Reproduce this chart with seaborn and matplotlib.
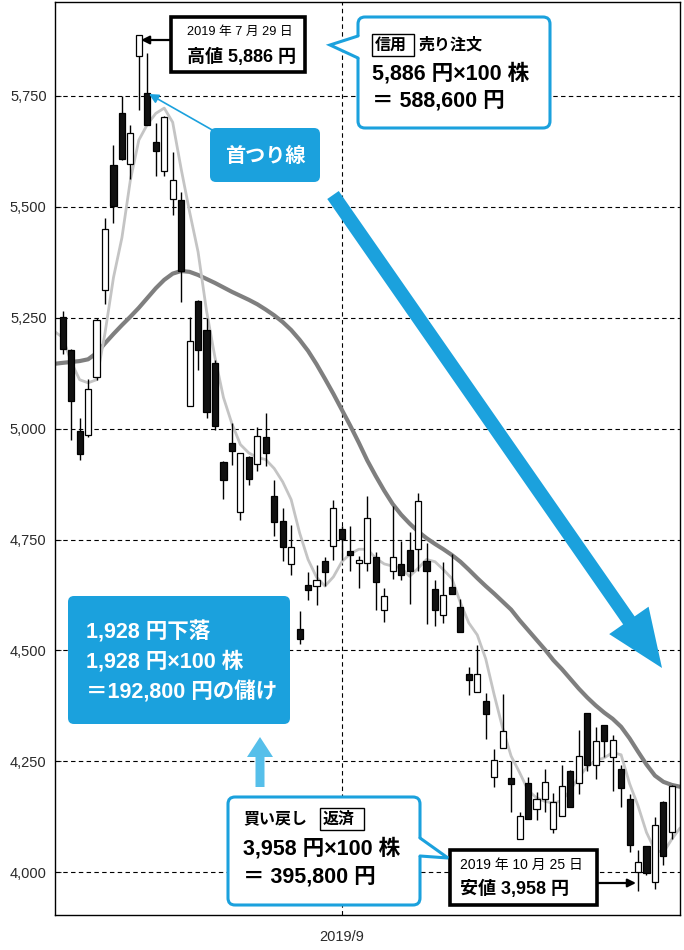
import numpy as np
import pandas as pd
import matplotlib
matplotlib.use("Agg")
import matplotlib.pyplot as plt
import seaborn as sns
from matplotlib.patches import FancyBboxPatch, Rectangle, Polygon, FancyArrow
from matplotlib.lines import Line2D

sns.set_theme(style="white")
plt.rcParams['font.family'] = ['Noto Sans CJK JP', 'DejaVu Sans']
MIXED = ['Liberation Sans', 'Noto Sans CJK JP']

# --- daily prices, 2019-07-16 .. 2019-10-31 (one entry per trading day) ---
opens = [5252, 5178, 4995, 4986, 5117, 5313, 5593, 5711, 5597, 5840,
         5755, 5645, 5581, 5517, 5514, 5051, 5288, 5222, 5148, 4924,
         4967, 4812, 4936, 4920, 4982, 4848, 4791, 4695, 4549, 4647,
         4646, 4701, 4735, 4773, 4724, 4697, 4696, 4710, 4591, 4679,
         4695, 4726, 4728, 4701, 4639, 4580, 4642, 4599, 4447, 4407,
         4387, 4215, 4280, 4212, 4075, 4201, 4142, 4165, 4097, 4126,
         4228, 4202, 4360, 4243, 4331, 4260, 4232, 4166, 4001, 4059,
         3979, 4158, 4091]
highs = [5265, 5180, 5024, 5111, 5248, 5474, 5639, 5750, 5683, 5886,
         5847, 5688, 5705, 5623, 5532, 5251, 5290, 5248, 5154, 4926,
         5013, 4945, 4938, 5003, 5034, 4884, 4822, 4783, 4589, 4677,
         4692, 4710, 4839, 4780, 4780, 4712, 4848, 4721, 4640, 4825,
         4747, 4767, 4854, 4741, 4658, 4700, 4717, 4615, 4463, 4512,
         4404, 4278, 4401, 4250, 4137, 4214, 4182, 4233, 4178, 4243,
         4230, 4321, 4360, 4327, 4333, 4310, 4241, 4177, 4050, 4060,
         4125, 4160, 4196]
lows = [5169, 4974, 4929, 4980, 5110, 5280, 5462, 5605, 5562, 5717,
        5683, 5570, 5570, 5481, 5286, 5051, 5133, 5023, 4996, 4841,
        4917, 4795, 4872, 4905, 4916, 4758, 4701, 4670, 4514, 4613,
        4602, 4645, 4703, 4703, 4679, 4640, 4680, 4591, 4564, 4661,
        4658, 4604, 4679, 4559, 4555, 4562, 4628, 4541, 4400, 4407,
        4300, 4192, 4280, 4137, 4075, 4120, 4118, 4135, 4088, 4126,
        4147, 4177, 4228, 4211, 4261, 4183, 4147, 4046, 3958, 3995,
        3962, 4016, 4076]
closes = [5180, 5061, 4942, 5090, 5245, 5449, 5502, 5608, 5665, 5886,
          5683, 5625, 5702, 5559, 5355, 5197, 5177, 5038, 5005, 4885,
          4949, 4945, 4886, 4984, 4945, 4789, 4733, 4733, 4526, 4636,
          4658, 4677, 4821, 4752, 4714, 4703, 4798, 4655, 4622, 4710,
          4671, 4680, 4836, 4680, 4592, 4625, 4628, 4541, 4433, 4447,
          4356, 4254, 4319, 4200, 4127, 4120, 4165, 4203, 4158, 4195,
          4147, 4263, 4243, 4296, 4296, 4299, 4191, 4062, 4024, 3998,
          4106, 4037, 4194]

# moving averages: left plot edge, each trading day, right plot edge
ma_short = [5218,
            5205, 5150, 5110, 5103, 5110, 5215, 5340, 5430, 5560, 5650,
            5685, 5710, 5722, 5690, 5585, 5488, 5398, 5265, 5160, 5070,
            5011, 4964, 4945, 4935, 4930, 4910, 4880, 4840, 4765, 4705,
            4665, 4645, 4666, 4700, 4718, 4728, 4728, 4708, 4695, 4690,
            4686, 4667, 4685, 4705, 4700, 4682, 4662, 4608, 4562, 4535,
            4481, 4400, 4325, 4262, 4225, 4185, 4168, 4160, 4156, 4162,
            4185, 4215, 4238, 4252, 4258, 4270, 4265, 4200, 4150, 4090,
            4050, 4045, 4075,
            4100]
ma_long = [5146,
           5148, 5150, 5152, 5156, 5170, 5192, 5213, 5233, 5252, 5272,
           5294, 5316, 5335, 5349, 5355, 5353, 5346, 5337, 5328, 5318,
           5308, 5299, 5290, 5280, 5268, 5255, 5240, 5222, 5200, 5175,
           5145, 5112, 5078, 5042, 5006, 4968, 4928, 4893, 4860, 4830,
           4806, 4786, 4768, 4753, 4740, 4728, 4715, 4700, 4682, 4663,
           4645, 4628, 4610, 4592, 4568, 4546, 4524, 4502, 4478, 4458,
           4436, 4414, 4394, 4376, 4360, 4346, 4328, 4302, 4272, 4243,
           4218, 4204, 4197,
           4193]

y_ticks = [4000, 4250, 4500, 4750, 5000, 5250, 5500, 5750]
month_tick_day = 33
month_tick_label = "2019/9"

BLUE = "#1ba1dd"
BLUE_LIGHT = "#56bfea"

n = len(closes)
x_lo, x_hi = -0.91, n - 1 + 0.96
df = pd.DataFrame({"day": np.arange(n), "open": opens, "high": highs,
                   "low": lows, "close": closes})
ma_x = np.r_[x_lo, np.arange(n), x_hi]
ma_df = pd.DataFrame({"day": ma_x, "short": ma_short, "long": ma_long})

fig = plt.figure(figsize=(6.84, 9.50), dpi=100)
ax = fig.add_axes([55 / 684, 35 / 950, 625 / 684, 913 / 950])

# grid
for yv in y_ticks:
    ax.axhline(yv, color="black", lw=0.8, ls=(0, (4, 3)), zorder=1)
ax.axvline(month_tick_day, color="black", lw=0.8, ls=(0, (4, 3)), zorder=1)

# moving averages
sns.lineplot(data=ma_df, x="day", y="long", ax=ax, color="#7f7f7f", lw=3.0,
             zorder=2, estimator=None, sort=False)
sns.lineplot(data=ma_df, x="day", y="short", ax=ax, color="#c4c4c4", lw=2.0,
             zorder=2, estimator=None, sort=False)

# candlesticks
up = df["close"] >= df["open"]
ax.vlines(df["day"], df["low"], df["high"], color="black", lw=1.0, zorder=3)
body_lo = np.minimum(df["open"], df["close"])
body_h = np.maximum(np.abs(df["close"] - df["open"]), 4)
ax.bar(df["day"], body_h, bottom=body_lo, width=0.72,
       color=np.where(up, "white", "#111111"), edgecolor="black",
       linewidth=0.9, zorder=4)

ax.set_xlim(x_lo, x_hi)
ax.set_ylim(3904, 5961)
ax.set_yticks(y_ticks)
ax.set_yticklabels([f"{v:,}" for v in y_ticks], fontfamily="Liberation Sans",
                   fontsize=10.5, color="#2a2a2a")
ax.set_xticks([month_tick_day])
ax.set_xticklabels([month_tick_label], fontfamily="Liberation Sans",
                   fontsize=10.5, color="#2a2a2a")
ax.tick_params(axis="y", direction="in", length=4, width=0.8, pad=6,
               left=True)
ax.tick_params(axis="x", length=0, pad=11)
ax.set_xlabel("")
ax.set_ylabel("")
for sp in ax.spines.values():
    sp.set_color("black")
    sp.set_linewidth(1.0)
    sp.set_visible(True)

# --- annotation layer in pixel units ---
ov = fig.add_axes([0, 0, 1, 1], zorder=10)
ov.set_xlim(0, 684)
ov.set_ylim(950, 0)
ov.axis("off")
ov.patch.set_alpha(0)


def black_box(x0, y0, x1, y1):
    ov.add_patch(Rectangle((x0, y0), x1 - x0, y1 - y0, facecolor="white",
                           edgecolor="black", lw=2.6, zorder=5))


def bubble(x0, y0, x1, y1, tip, base):
    ov.add_patch(FancyBboxPatch((x0, y0), x1 - x0, y1 - y0,
                                boxstyle="round,pad=0,rounding_size=7",
                                facecolor="white", edgecolor=BLUE, lw=2.2,
                                zorder=5))
    ex = x0 if tip[0] < x0 else x1
    inner = ex + (2 if ex == x0 else -2)
    ov.add_patch(Polygon([tip, (inner, base[0]), (inner, base[1])],
                         closed=True, facecolor="white", edgecolor="none",
                         zorder=6))
    ov.add_line(Line2D([ex, tip[0], ex], [base[0], tip[1], base[1]],
                       color=BLUE, lw=2.2, zorder=6, solid_joinstyle="miter"))


def label(x, y, s, size, bold=True, color="black", ha="left"):
    ov.text(x, y, s, fontsize=size, fontweight="bold" if bold else "normal",
            family=MIXED, color=color, va="center", ha=ha, zorder=8)


# top-left: high of the day
black_box(171, 17, 305, 72)
label(187, 32, "2019 年 7 月 29 日", 9.2, bold=False)
label(187, 57, "高値 5,886 円", 13)
ov.annotate("", xy=(141, 40), xytext=(171, 40), zorder=8,
            arrowprops=dict(arrowstyle="-|>", color="black", lw=1.6,
                            mutation_scale=12, shrinkA=0, shrinkB=0))

# sell order bubble
bubble(358, 17, 550, 128, tip=(330, 45), base=(36, 58))
ov.add_patch(Rectangle((372, 34), 42, 22, facecolor="none", edgecolor="black",
                       lw=1.0, zorder=8))
label(375, 45, "信用", 11.5)
label(419, 45, "売り注文", 11.5)
label(372, 74, "5,886 円×100 株", 15.5)
label(372, 101, "＝ 588,600 円", 15.5)

# hanging-man callout
ov.add_patch(FancyBboxPatch((210, 128), 110, 54,
                            boxstyle="round,pad=0,rounding_size=6",
                            facecolor=BLUE, edgecolor="none", zorder=5))
label(265, 156, "首つり線", 14.5, color="white", ha="center")
ov.annotate("", xy=(149, 94), xytext=(214, 131), zorder=6,
            arrowprops=dict(arrowstyle="-|>", color=BLUE, lw=1.2,
                            mutation_scale=14, shrinkA=0, shrinkB=0))

# down-trend arrow
ov.add_patch(FancyArrow(333, 195, 329, 473, width=14, head_width=48,
                        head_length=58, length_includes_head=True,
                        facecolor=BLUE, edgecolor="none", zorder=5))

# profit box
ov.add_patch(FancyBboxPatch((68, 596), 222, 128,
                            boxstyle="round,pad=0,rounding_size=6",
                            facecolor=BLUE, edgecolor="none", zorder=5))
for yy, s in [(632, "1,928 円下落"), (662, "1,928 円×100 株"),
              (692, "＝192,800 円の儲け")]:
    label(86, yy, s, 15.5, color="white")
ov.add_patch(FancyArrow(260, 787, 0, -50, width=9, head_width=26,
                        head_length=20, length_includes_head=True,
                        facecolor=BLUE_LIGHT, edgecolor="none", zorder=5))

# buy-back bubble
bubble(228, 797, 420, 905, tip=(448, 858), base=(838, 856))
label(243, 819, "買い戻し", 11.5)
ov.add_patch(Rectangle((320, 808), 44, 22, facecolor="none", edgecolor="black",
                       lw=1.0, zorder=8))
label(323, 819, "返済", 11.5)
label(243, 849, "3,958 円×100 株", 15.5)
label(243, 877, "＝ 395,800 円", 15.5)

# low of the day
black_box(450, 850, 597, 905)
label(460, 865, "2019 年 10 月 25 日", 10, bold=False)
label(460, 889, "安値 3,958 円", 13)
ov.annotate("", xy=(636, 883), xytext=(597, 883), zorder=8,
            arrowprops=dict(arrowstyle="-|>", color="black", lw=1.6,
                            mutation_scale=12, shrinkA=0, shrinkB=0))

fig.savefig("out.png", dpi=100)
